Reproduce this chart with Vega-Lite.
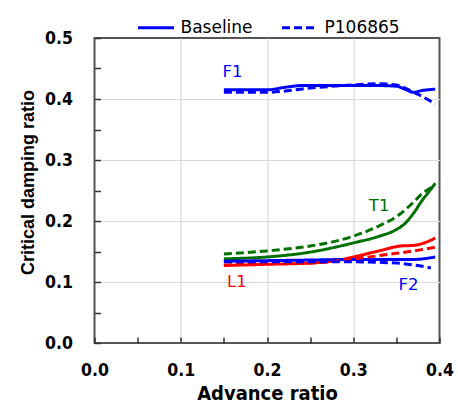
{
  "$schema": "https://vega.github.io/schema/vega-lite/v6.json",
  "width": 345,
  "height": 305,
  "autosize": "none",
  "padding": {"left": 94.5, "top": 38, "right": 18.5, "bottom": 63},
  "background": "white",
  "config": {
    "view": {"stroke": "#555555", "strokeWidth": 2},
    "axis": {
      "labelFont": "DejaVu Sans Condensed",
      "labelFontWeight": "bold",
      "labelFontSize": 17.5,
      "labelColor": "black",
      "labelFlush": false,
      "titleFont": "DejaVu Sans Condensed",
      "titleFontWeight": "bold",
      "titleFontSize": 20,
      "titleColor": "black",
      "domain": false,
      "gridColor": "#d9d9d9",
      "gridWidth": 1.2,
      "tickColor": "#333333",
      "tickWidth": 1.5,
      "tickSize": -6
    }
  },
  "resolve": {"axis": {"x": "independent", "y": "independent"}},
  "datasets": {
    "curves": [
      {"mode": "F1", "case": "Baseline", "mu": 0.15, "zeta": 0.415},
      {"mode": "F1", "case": "Baseline", "mu": 0.17, "zeta": 0.415},
      {"mode": "F1", "case": "Baseline", "mu": 0.2, "zeta": 0.415},
      {"mode": "F1", "case": "Baseline", "mu": 0.22, "zeta": 0.419},
      {"mode": "F1", "case": "Baseline", "mu": 0.24, "zeta": 0.422},
      {"mode": "F1", "case": "Baseline", "mu": 0.26, "zeta": 0.422},
      {"mode": "F1", "case": "Baseline", "mu": 0.3, "zeta": 0.422},
      {"mode": "F1", "case": "Baseline", "mu": 0.33, "zeta": 0.422},
      {"mode": "F1", "case": "Baseline", "mu": 0.35, "zeta": 0.421},
      {"mode": "F1", "case": "Baseline", "mu": 0.36, "zeta": 0.416},
      {"mode": "F1", "case": "Baseline", "mu": 0.37, "zeta": 0.411},
      {"mode": "F1", "case": "Baseline", "mu": 0.38, "zeta": 0.414},
      {"mode": "F1", "case": "Baseline", "mu": 0.395, "zeta": 0.416},
      {"mode": "F1", "case": "P106865", "mu": 0.15, "zeta": 0.411},
      {"mode": "F1", "case": "P106865", "mu": 0.2, "zeta": 0.411},
      {"mode": "F1", "case": "P106865", "mu": 0.25, "zeta": 0.418},
      {"mode": "F1", "case": "P106865", "mu": 0.3, "zeta": 0.423},
      {"mode": "F1", "case": "P106865", "mu": 0.33, "zeta": 0.425},
      {"mode": "F1", "case": "P106865", "mu": 0.35, "zeta": 0.423},
      {"mode": "F1", "case": "P106865", "mu": 0.36, "zeta": 0.418},
      {"mode": "F1", "case": "P106865", "mu": 0.37, "zeta": 0.411},
      {"mode": "F1", "case": "P106865", "mu": 0.38, "zeta": 0.404},
      {"mode": "F1", "case": "P106865", "mu": 0.395, "zeta": 0.392},
      {"mode": "T1", "case": "Baseline", "mu": 0.15, "zeta": 0.138},
      {"mode": "T1", "case": "Baseline", "mu": 0.2, "zeta": 0.141},
      {"mode": "T1", "case": "Baseline", "mu": 0.25, "zeta": 0.149},
      {"mode": "T1", "case": "Baseline", "mu": 0.3, "zeta": 0.164},
      {"mode": "T1", "case": "Baseline", "mu": 0.33, "zeta": 0.175},
      {"mode": "T1", "case": "Baseline", "mu": 0.35, "zeta": 0.186},
      {"mode": "T1", "case": "Baseline", "mu": 0.36, "zeta": 0.196},
      {"mode": "T1", "case": "Baseline", "mu": 0.37, "zeta": 0.213},
      {"mode": "T1", "case": "Baseline", "mu": 0.38, "zeta": 0.234},
      {"mode": "T1", "case": "Baseline", "mu": 0.39, "zeta": 0.252},
      {"mode": "T1", "case": "Baseline", "mu": 0.395, "zeta": 0.262},
      {"mode": "T1", "case": "P106865", "mu": 0.15, "zeta": 0.146},
      {"mode": "T1", "case": "P106865", "mu": 0.2, "zeta": 0.151},
      {"mode": "T1", "case": "P106865", "mu": 0.25, "zeta": 0.159},
      {"mode": "T1", "case": "P106865", "mu": 0.3, "zeta": 0.175},
      {"mode": "T1", "case": "P106865", "mu": 0.33, "zeta": 0.192},
      {"mode": "T1", "case": "P106865", "mu": 0.35, "zeta": 0.207},
      {"mode": "T1", "case": "P106865", "mu": 0.37, "zeta": 0.231},
      {"mode": "T1", "case": "P106865", "mu": 0.38, "zeta": 0.245},
      {"mode": "T1", "case": "P106865", "mu": 0.395, "zeta": 0.258},
      {"mode": "L1", "case": "Baseline", "mu": 0.15, "zeta": 0.127},
      {"mode": "L1", "case": "Baseline", "mu": 0.2, "zeta": 0.129},
      {"mode": "L1", "case": "Baseline", "mu": 0.25, "zeta": 0.131},
      {"mode": "L1", "case": "Baseline", "mu": 0.28, "zeta": 0.135},
      {"mode": "L1", "case": "Baseline", "mu": 0.3, "zeta": 0.141},
      {"mode": "L1", "case": "Baseline", "mu": 0.33, "zeta": 0.151},
      {"mode": "L1", "case": "Baseline", "mu": 0.355, "zeta": 0.159},
      {"mode": "L1", "case": "Baseline", "mu": 0.37, "zeta": 0.16},
      {"mode": "L1", "case": "Baseline", "mu": 0.38, "zeta": 0.163},
      {"mode": "L1", "case": "Baseline", "mu": 0.395, "zeta": 0.172},
      {"mode": "L1", "case": "P106865", "mu": 0.15, "zeta": 0.128},
      {"mode": "L1", "case": "P106865", "mu": 0.2, "zeta": 0.13},
      {"mode": "L1", "case": "P106865", "mu": 0.25, "zeta": 0.131},
      {"mode": "L1", "case": "P106865", "mu": 0.3, "zeta": 0.138},
      {"mode": "L1", "case": "P106865", "mu": 0.35, "zeta": 0.147},
      {"mode": "L1", "case": "P106865", "mu": 0.37, "zeta": 0.151},
      {"mode": "L1", "case": "P106865", "mu": 0.395, "zeta": 0.157},
      {"mode": "F2", "case": "Baseline", "mu": 0.15, "zeta": 0.134},
      {"mode": "F2", "case": "Baseline", "mu": 0.2, "zeta": 0.135},
      {"mode": "F2", "case": "Baseline", "mu": 0.25, "zeta": 0.136},
      {"mode": "F2", "case": "Baseline", "mu": 0.3, "zeta": 0.137},
      {"mode": "F2", "case": "Baseline", "mu": 0.35, "zeta": 0.137},
      {"mode": "F2", "case": "Baseline", "mu": 0.37, "zeta": 0.137},
      {"mode": "F2", "case": "Baseline", "mu": 0.395, "zeta": 0.141},
      {"mode": "F2", "case": "P106865", "mu": 0.15, "zeta": 0.133},
      {"mode": "F2", "case": "P106865", "mu": 0.25, "zeta": 0.133},
      {"mode": "F2", "case": "P106865", "mu": 0.3, "zeta": 0.133},
      {"mode": "F2", "case": "P106865", "mu": 0.35, "zeta": 0.131},
      {"mode": "F2", "case": "P106865", "mu": 0.37, "zeta": 0.128},
      {"mode": "F2", "case": "P106865", "mu": 0.39, "zeta": 0.123}
    ],
    "labels": [
      {"mode": "F1", "mu": 0.16, "zeta": 0.445},
      {"mode": "T1", "mu": 0.33, "zeta": 0.225},
      {"mode": "L1", "mu": 0.165, "zeta": 0.1},
      {"mode": "F2", "mu": 0.364, "zeta": 0.095}
    ]
  },
  "layer": [
    {
      "data": {"name": "curves"},
      "transform": [{"filter": "datum.case == 'Baseline'"}],
      "mark": {"type": "line", "strokeWidth": 3, "interpolate": "monotone"},
      "encoding": {
        "x": {
          "field": "mu", "type": "quantitative",
          "scale": {"domain": [0, 0.4], "nice": false, "zero": false},
          "axis": {"orient": "bottom", "title": null, "values": [0.1, 0.2, 0.3], "grid": true, "ticks": false, "labels": false, "zindex": 0}
        },
        "y": {
          "field": "zeta", "type": "quantitative",
          "scale": {"domain": [0, 0.5], "nice": false, "zero": false},
          "axis": {"orient": "left", "title": null, "values": [0.1, 0.2, 0.3, 0.4], "grid": true, "ticks": false, "labels": false, "zindex": 0}
        },
        "color": {
          "field": "mode", "type": "nominal",
          "scale": {"domain": ["F1", "T1", "L1", "F2"], "range": ["#0000ff", "#007000", "#ff0000", "#0000ff"]},
          "legend": null
        },
        "strokeDash": {
          "field": "case", "type": "nominal",
          "scale": {"domain": ["Baseline", "P106865"], "range": [[1, 0], [8, 4]]},
          "legend": {
            "title": null,
            "orient": "none",
            "direction": "horizontal",
            "legendX": 42,
            "legendY": -30,
            "symbolType": "stroke",
            "symbolStrokeColor": "#0000ff",
            "symbolStrokeWidth": 3,
            "symbolSize": 1296,
            "labelFont": "DejaVu Sans",
            "labelFontSize": 17,
            "labelColor": "black",
            "labelOffset": 5,
            "columnPadding": 22
          }
        }
      }
    },
    {
      "data": {"name": "curves"},
      "transform": [{"filter": "datum.case == 'P106865'"}],
      "mark": {"type": "line", "strokeWidth": 3, "interpolate": "monotone"},
      "encoding": {
        "x": {
          "field": "mu", "type": "quantitative",
          "axis": {
            "orient": "bottom",
            "title": "Advance ratio",
            "values": [0, 0.1, 0.2, 0.3, 0.4],
            "format": ".1f",
            "grid": false,
            "ticks": true,
            "labelPadding": 24,
            "titlePadding": 5,
            "zindex": 1
          }
        },
        "y": {
          "field": "zeta", "type": "quantitative",
          "axis": {
            "orient": "left",
            "title": "Critical damping ratio",
            "titleFont": "Liberation Sans",
            "titleFontSize": 18,
            "titleY": 144,
            "values": [0, 0.1, 0.2, 0.3, 0.4, 0.5],
            "format": ".1f",
            "grid": false,
            "ticks": true,
            "labelPadding": 28,
            "titlePadding": 7,
            "zindex": 1
          }
        },
        "color": {"field": "mode", "type": "nominal", "legend": null},
        "strokeDash": {"field": "case", "type": "nominal"}
      }
    },
    {
      "data": {"name": "labels"},
      "mark": {"type": "text", "font": "DejaVu Sans", "fontSize": 16.5},
      "encoding": {
        "x": {
          "field": "mu", "type": "quantitative",
          "axis": {"orient": "bottom", "title": null, "values": [0.05, 0.15, 0.25, 0.35], "grid": false, "ticks": true, "labels": false, "zindex": 1}
        },
        "y": {
          "field": "zeta", "type": "quantitative",
          "axis": {"orient": "left", "title": null, "values": [0.05, 0.15, 0.25, 0.35, 0.45], "grid": false, "ticks": true, "labels": false, "zindex": 1}
        },
        "text": {"field": "mode"},
        "color": {"field": "mode", "type": "nominal", "legend": null}
      }
    }
  ]
}
